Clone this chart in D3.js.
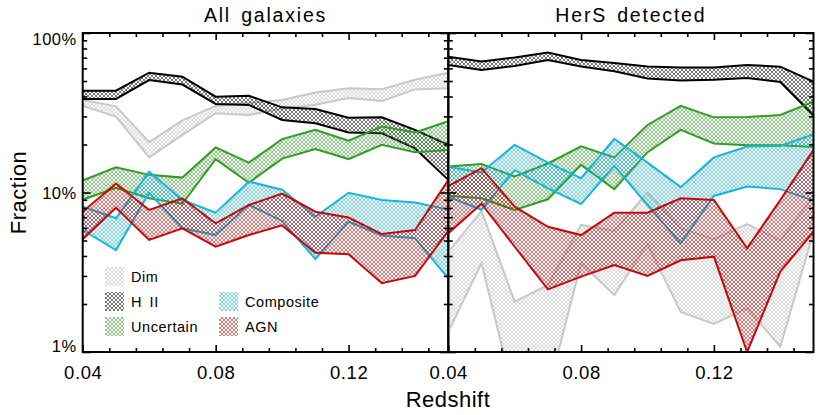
<!DOCTYPE html>
<html><head><meta charset="utf-8">
<script src="https://cdn.jsdelivr.net/npm/d3@7"></script>
<style>
body{margin:0;background:#fff;}
svg text{font-family:"Liberation Sans",Arial,Helvetica,sans-serif;fill:#000;}
</style></head><body>
<svg id="chart" width="830" height="415"></svg>
<script>
// ---------------- data (fractions in %) ----------------
const redshift = [0.04,0.05,0.06,0.07,0.08,0.09,0.10,0.11,0.12,0.13,0.14,0.15];
const panelTitles = ["All galaxies","HerS detected"];
const seriesNames = ["Dim","H II","Uncertain","Composite","AGN"];
const xMajorTicks = [0.04,0.08,0.12];
const xMinorTicks = [0.048,0.056,0.064,0.072,0.088,0.096,0.104,0.112,0.128,0.136,0.144];
const yMajorTicks = [1,10,100];
const yTickLabels = ["1%","10%","100%"];
const yMinorTicks = [2,3,4,5,6,7,8,9,20,30,40,50,60,70,80,90];

// All galaxies
const allDimHi  = [38.0,34.7,20.7,28.3,34.9,36.4,38.0,42.4,45.0,44.4,50.9,56.4];
const allDimLo  = [34.9,29.9,16.6,23.0,31.4,30.6,33.6,35.5,39.1,37.5,44.3,45.0];
const allHIIHi  = [43.5,43.5,56.4,53.2,39.9,40.4,34.2,33.4,29.4,29.6,24.7,19.9];
const allHIILo  = [38.6,38.6,50.7,47.5,35.9,35.4,28.5,27.2,23.8,23.5,18.9,12.0];
const allUncHi  = [11.9,14.4,12.9,12.4,19.2,15.4,21.6,24.7,21.1,25.9,23.8,28.0];
const allUncLo  = [9.0,10.7,9.2,8.5,16.2,11.5,16.3,18.7,16.2,19.9,17.9,18.5];
const allCompHi = [8.15,6.89,13.5,8.97,7.47,11.7,10.4,7.05,9.97,8.97,8.66,7.81];
const allCompLo = [5.82,4.36,9.97,5.96,5.41,8.35,6.63,3.83,6.56,5.38,5.16,2.90];
const allAGNHi  = [7.58,11.4,7.77,9.20,6.41,8.35,9.84,7.58,6.97,5.49,5.82,11.98];
const allAGNLo  = [5.09,8.03,5.04,5.96,4.57,5.41,6.22,4.19,4.10,2.70,3.00,5.74];

// HerS detected
const herDimHi  = [4.24,7.66,2.07,2.63,6.26,5.74,10.0,5.98,5.09,6.34,5.0,9.5];
const herDimLo  = [1.34,3.60,0.51,0.56,3.60,2.28,4.75,1.78,1.50,1.88,1.08,5.65];
const herHIIHi  = [71.0,66.3,70.2,75.5,67.7,64.9,61.7,60.8,60.8,63.0,61.5,49.6];
const herHIILo  = [63.0,58.6,62.1,67.7,61.7,57.5,51.8,50.4,50.9,52.2,49.3,30.4];
const herUncHi  = [14.55,15.1,12.6,15.2,19.5,16.6,26.5,34.9,29.6,29.7,30.6,37.1];
const herUncLo  = [9.55,9.20,7.77,9.07,14.9,10.5,17.9,24.7,20.3,19.8,19.8,19.3];
const herCompHi = [14.5,13.35,19.9,15.4,12.3,21.7,15.4,10.8,16.6,19.4,19.6,23.2];
const herCompLo = [9.41,7.80,13.8,10.6,8.47,14.7,8.35,4.80,9.51,10.9,10.5,8.89];
const herAGNHi  = [10.98,14.2,8.15,6.10,5.41,7.47,7.47,9.20,8.97,4.47,8.97,18.5];
const herAGNLo  = [5.56,8.51,4.57,2.47,2.97,3.51,3.00,3.76,3.96,1.00,3.19,5.68];

// ---------------- build ----------------
const panelData = [
  [[allDimLo,allDimHi],[allHIILo,allHIIHi],[allUncLo,allUncHi],[allCompLo,allCompHi],[allAGNLo,allAGNHi]],
  [[herDimLo,herDimHi],[herHIILo,herHIIHi],[herUncLo,herUncHi],[herCompLo,herCompHi],[herAGNLo,herAGNHi]]
];
const lineColors  = ["#c8c8c8","#000000","#2f9e22","#14b6de","#c80808"];
const hatchColors = ["#bcbcbc","#1a1a1a","#2f9e22","#14b6de","#c80808"];
const hatchWidths = [0.55,0.6,0.55,0.55,0.55];

const svg = d3.select("#chart");
const top_ = 33, bottom_ = 352;
const panelX = [[82.7,448.3],[448.3,813.5]];
const y = d3.scaleLog().domain([1,100]).range([bottom_, top_]);

const defs = svg.append("defs");
hatchColors.forEach((c,k)=>{
  const p = defs.append("pattern").attr("id","hatch"+k).attr("patternUnits","userSpaceOnUse")
    .attr("width",4).attr("height",4);
  p.append("path").attr("d","M0,0L4,4M4,0L0,4").attr("stroke",c)
    .attr("stroke-width", hatchWidths[k]).attr("fill","none");
});

panelX.forEach((px,pi)=>{
  const x = d3.scaleLinear().domain([0.04,0.15]).range(px);
  defs.append("clipPath").attr("id","clip"+pi).append("rect")
    .attr("x",px[0]).attr("y",top_).attr("width",px[1]-px[0]).attr("height",bottom_-top_);
  const g = svg.append("g").attr("clip-path","url(#clip"+pi+")");
  panelData[pi].forEach((s,k)=>{
    const [lo,hi] = s;
    const pts = redshift.map((z,i)=>({z,lo:lo[i],hi:hi[i]}));
    g.append("path").datum(pts)
      .attr("d", d3.area().x(d=>x(d.z)).y0(d=>y(d.lo)).y1(d=>y(d.hi)))
      .attr("fill","url(#hatch"+k+")").attr("stroke","none");
    ["lo","hi"].forEach(key=>{
      g.append("path").datum(pts)
        .attr("d", d3.line().x(d=>x(d.z)).y(d=>y(d[key])))
        .attr("fill","none").attr("stroke",lineColors[k]).attr("stroke-width",2)
        .attr("stroke-linejoin","miter");
    });
  });

  // axes
  const ax = svg.append("g");
  const bMaj = ax.append("g").attr("transform",`translate(0,${bottom_})`)
    .call(d3.axisBottom(x).tickValues(xMajorTicks).tickSize(-7).tickPadding(13.5).tickFormat(d3.format(".2f")));
  bMaj.selectAll("text").style("font-size","18.5px").style("letter-spacing","0.6px");
  ax.append("g").attr("transform",`translate(0,${bottom_})`)
    .call(d3.axisBottom(x).tickValues(xMinorTicks).tickSize(-4).tickFormat(""));
  ax.append("g").attr("transform",`translate(0,${top_})`)
    .call(d3.axisTop(x).tickValues(xMajorTicks).tickSize(-7).tickFormat(""));
  ax.append("g").attr("transform",`translate(0,${top_})`)
    .call(d3.axisTop(x).tickValues(xMinorTicks).tickSize(-4).tickFormat(""));
  const lMaj = ax.append("g").attr("transform",`translate(${px[0]},0)`)
    .call(d3.axisLeft(y).tickValues(yMajorTicks).tickSize(-8).tickPadding(6)
      .tickFormat((d,i)=> pi===0 ? yTickLabels[i] : ""));
  lMaj.selectAll("text").style("font-size","16.5px").style("letter-spacing","0.5px")
    .attr("dy", d => d===100 ? "0.7em" : d===1 ? "-0.02em" : "0.36em");
  ax.append("g").attr("transform",`translate(${px[0]},0)`)
    .call(d3.axisLeft(y).tickValues(yMinorTicks).tickSize(-4.5).tickFormat(""));
  ax.append("g").attr("transform",`translate(${px[1]},0)`)
    .call(d3.axisRight(y).tickValues(yMajorTicks).tickSize(-8).tickFormat(""));
  ax.append("g").attr("transform",`translate(${px[1]},0)`)
    .call(d3.axisRight(y).tickValues(yMinorTicks).tickSize(-4.5).tickFormat(""));
  ax.selectAll(".domain").remove();
  ax.selectAll(".tick line").attr("stroke","#000").attr("stroke-width",1.6);
  ax.selectAll(".tick text").style("font-family","'Liberation Sans',Arial,sans-serif");

  svg.append("rect").attr("x",px[0]).attr("y",top_).attr("width",px[1]-px[0]).attr("height",bottom_-top_)
    .attr("fill","none").attr("stroke","#000").attr("stroke-width",2);

  svg.append("text").attr("x",(px[0]+px[1])/2).attr("y",21.5).attr("text-anchor","middle")
    .style("font-size","19.5px").style("letter-spacing","1.8px").style("word-spacing","3px")
    .text(panelTitles[pi]);
});

// axis titles
svg.append("text").attr("x",448).attr("y",406.5).attr("text-anchor","middle")
  .style("font-size","22px").style("letter-spacing","0.5px").text("Redshift");
svg.append("text").attr("transform","translate(26,192.5) rotate(-90)").attr("text-anchor","middle")
  .style("font-size","22px").style("letter-spacing","0.5px").text("Fraction");

// legend
const legCol = [0,0,0,1,1], legRow = [0,1,2,1,2];
const leg = svg.append("g");
seriesNames.forEach((n,k)=>{
  const lx = legCol[k]===0 ? 105 : 219, ly = 267 + legRow[k]*25;
  leg.append("rect").attr("x",lx).attr("y",ly).attr("width",19).attr("height",19)
    .attr("fill","url(#hatch"+k+")");
  leg.append("text").attr("x",lx+26).attr("y",ly+14.5)
    .style("font-size","14.5px").style("letter-spacing","0.55px").style("word-spacing","3px").text(n);
});
</script>
</body></html>
